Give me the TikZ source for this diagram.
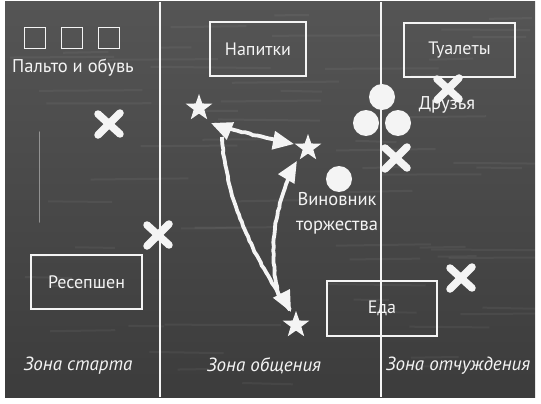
\documentclass[tikz,border=0pt]{standalone}
\usepackage{fontspec}
\setmainfont{PT Sans}
\usetikzlibrary{shapes.geometric,arrows.meta,decorations.pathmorphing}
\definecolor{boardtop}{HTML}{555555}
\definecolor{boardbot}{HTML}{3C3C3C}
\definecolor{chalk}{HTML}{F4F4F4}
\begin{document}
\begin{tikzpicture}[x=1pt,y=-1pt,
  box/.style={draw=chalk,line width=1.6pt,text=chalk,font=\fontsize{18}{21}\selectfont},
  smallbox/.style={draw=chalk,line width=1.6pt,minimum size=21pt,inner sep=0pt},
  lbl/.style={text=chalk,font=\fontsize{18.5}{21}\selectfont,inner sep=0pt},
  zone/.style={text=chalk,font=\fontsize{19}{22}\selectfont\itshape,inner sep=0pt},
  person/.style={star,star points=5,star point ratio=2.5,fill=chalk,minimum size=28pt,inner sep=0pt},
  guest/.style={circle,fill=chalk,minimum size=26pt,inner sep=0pt},
  divider/.style={chalk,line width=1.2pt},
  tip/.tip={Triangle[length=21pt,width=18pt]},
  chalkarrow/.style={chalk,line width=3.8pt,-tip,
     decorate,decoration={random steps,segment length=4pt,amplitude=0.5pt}},
  cross/.style={chalk,line width=7.5pt,line cap=round}
]
\useasboundingbox (0,0) rectangle (541,404);
\fill[white] (0,0) rectangle (541,404);
\shade[top color=boardtop,bottom color=boardbot] (5,2) rectangle (535,397);
% faint chalk smudges
\pgfmathsetseed{7}
\foreach \i in {1,...,60}{
  \pgfmathsetmacro{\xx}{10+rnd*480}
  \pgfmathsetmacro{\yy}{8+rnd*380}
  \pgfmathsetmacro{\ll}{30+rnd*90}
  \draw[white,opacity=0.05,line width=2pt] (\xx,\yy) -- ++(\ll,rnd*3-1.5);
}
\draw[white,opacity=0.4,line width=1.5pt,line cap=round] (39.5,132) -- (39.5,222);

% dividers
\coordinate (d1t) at (160,2); \coordinate (d1b) at (160,397);
\coordinate (d2t) at (381,2); \coordinate (d2b) at (381,397);
\draw[divider] (d1t) -- (d1b);
\draw[divider] (d2t) -- (d2b);

% boxes
\node[smallbox] (sq1) at (35,38) {};
\node[smallbox] (sq2) at (72,38) {};
\node[smallbox] (sq3) at (109,38) {};
\node[lbl] (coats) at (73,68) {Пальто и обувь};
\node[box,minimum width=96pt,minimum height=54pt] (drinks) at (258,49) {Напитки};
\node[box,minimum width=111pt,minimum height=54pt] (wc) at (459.5,50) {Туалеты};
\node[box,minimum width=111pt,minimum height=54pt] (recep) at (86.5,282) {Ресепшен};
\node[box,minimum width=110pt,minimum height=55pt] (food) at (382,308.5) {Еда};

% people
\node[person] (s1) at (199,108) {};
\node[person] (s2) at (308,148) {};
\node[person] (s3) at (296,325) {};
\node[guest] (f1) at (382,97) {};
\node[guest] (f2) at (366,123) {};
\node[guest] (f3) at (398,123) {};
\node[lbl] (friends) at (447,105) {Друзья};
\node[guest] (host) at (339,179) {};
\node[lbl,align=center,font=\fontsize{18.5}{25}\selectfont] (hostlbl) at (337,213) {Виновник\\торжества};

% crosses
\foreach \n/\cx/\cy in {x1/109/124, x2/158/235, x3/396/158, x4/448/89, x5/461/278}{
  \coordinate (\n) at (\cx,\cy);
  \draw[cross] ([shift={(-11,-10)}]\n) -- ([shift={(11,10)}]\n);
  \draw[cross] ([shift={(11,-11)}]\n) -- ([shift={(-11,11)}]\n);
}

% arrows
\coordinate (a1) at (211,123);
\coordinate (a2) at (294,144);
\coordinate (b1) at (222,137);
\coordinate (b2) at (291,312);
\coordinate (c1) at (280,298);
\coordinate (c2) at (297,161);
\draw[chalkarrow,tip-tip] (a1) .. controls (240,132) and (265,138) .. (a2);
\draw[chalkarrow] (b1) .. controls (226,200) and (252,255) .. (b2);
\draw[chalkarrow] (c1) .. controls (268,262) and (272,205) .. (c2);

% zones
\node[zone] (z1) at (78,366) {Зона старта};
\node[zone] (z2) at (264,366) {Зона общения};
\node[zone] (z3) at (458,366) {Зона отчуждения};
\end{tikzpicture}
\end{document}
